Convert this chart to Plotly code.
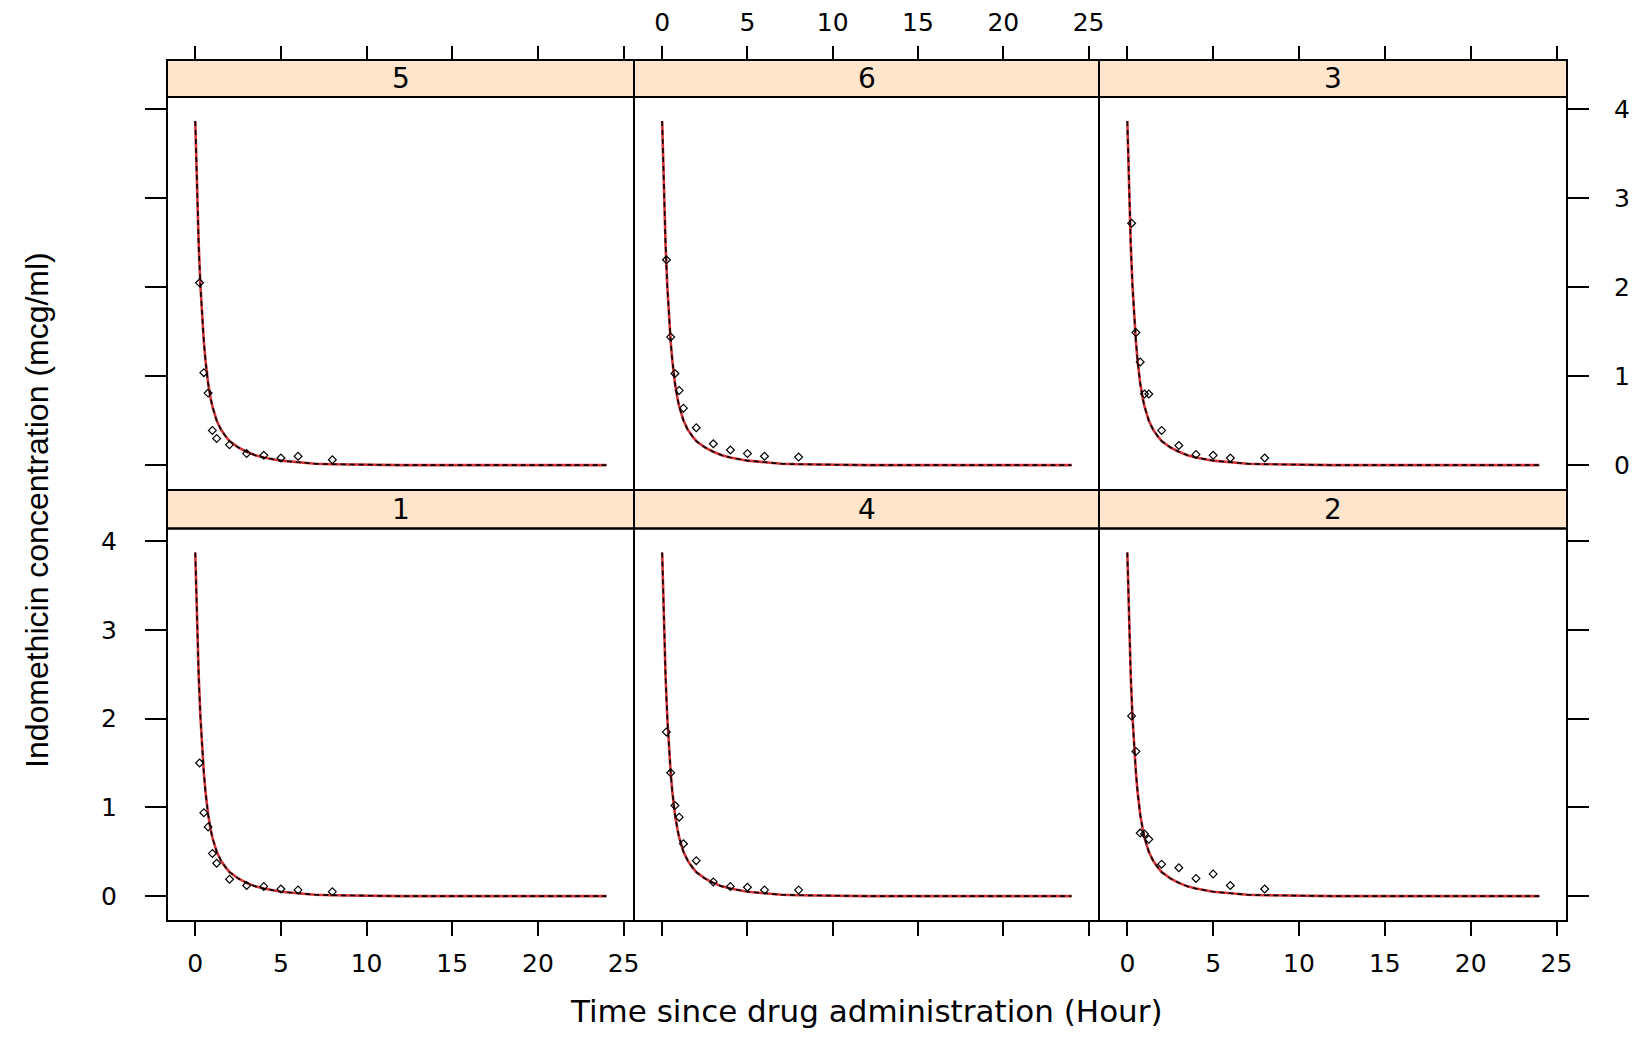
import plotly.graph_objects as go

# ---------------- data ----------------
time_h = [0.25, 0.5, 0.75, 1, 1.25, 2, 3, 4, 5, 6, 8]
conc_subject1 = [1.50, 0.94, 0.78, 0.48, 0.37, 0.19, 0.12, 0.11, 0.08, 0.07, 0.05]
conc_subject2 = [2.03, 1.63, 0.71, 0.70, 0.64, 0.36, 0.32, 0.20, 0.25, 0.12, 0.08]
conc_subject3 = [2.72, 1.49, 1.16, 0.80, 0.80, 0.39, 0.22, 0.12, 0.11, 0.08, 0.08]
conc_subject4 = [1.85, 1.39, 1.02, 0.89, 0.59, 0.40, 0.16, 0.11, 0.10, 0.07, 0.07]
conc_subject5 = [2.05, 1.04, 0.81, 0.39, 0.30, 0.23, 0.13, 0.11, 0.08, 0.10, 0.06]
conc_subject6 = [2.31, 1.44, 1.03, 0.84, 0.64, 0.42, 0.24, 0.17, 0.13, 0.10, 0.09]

# fitted curve (same in every panel)
fit_time = [0, 0.1, 0.2, 0.3, 0.4, 0.5, 0.6, 0.75, 0.9, 1.0, 1.25, 1.5, 1.75,
            2.0, 2.5, 3.0, 3.5, 4.0, 5.0, 6.0, 7.0, 8.0, 10.0, 12.0, 16.0, 20.0, 24.0]
fit_conc = [3.87, 3.09, 2.48, 2.02, 1.66, 1.39, 1.17, 0.92, 0.75, 0.66, 0.50, 0.40, 0.33,
            0.27, 0.20, 0.15, 0.11, 0.085, 0.05, 0.03, 0.015, 0.01, 0.003, 0.0, 0.0, 0.0, 0.0]

panel_labels = ["5", "6", "3", "1", "4", "2"]   # row 1 left->right, row 2 left->right
panel_conc = [conc_subject5, conc_subject6, conc_subject3,
              conc_subject1, conc_subject4, conc_subject2]

x_ticks = [0, 5, 10, 15, 20, 25]
y_ticks = [0, 1, 2, 3, 4]
x_title = "Time since drug administration (Hour)"
y_title = "Indomethicin concentration (mcg/ml)"

# ---------------- layout geometry ----------------
PAGE_OFF = 8                      # default page margin around the figure
W, H = 1638 - 2 * PAGE_OFF, 1040 - 2 * PAGE_OFF
col_px = [(167, 634), (634, 1099), (1099, 1567)]
row_plot_px = [(97, 490), (528.6, 921)]
row_strip_px = [(60, 97), (490, 528.6)]
top_axis_px = 60

def px_x(v):
    return (v - PAGE_OFF) / W

def px_y(v):
    return 1 - (v - PAGE_OFF) / H

x_range = [-1.65, 25.61]
y_range = [-0.28, 4.14]

strip_fill = "#ffe5cc"
tick_font = dict(family="DejaVu Sans", size=25, color="black")

fig = go.Figure()
layout = dict(width=W, height=H, margin=dict(l=0, r=0, t=0, b=0, autoexpand=False),
              paper_bgcolor="white", plot_bgcolor="white", showlegend=False)
shapes = []
annotations = []

for i in range(6):
    row, col = divmod(i, 3)
    n = i + 1
    xa = "x" if n == 1 else f"x{n}"
    ya = "y" if n == 1 else f"y{n}"
    xkey = "xaxis" if n == 1 else f"xaxis{n}"
    ykey = "yaxis" if n == 1 else f"yaxis{n}"

    x0, x1 = col_px[col]
    py0, py1 = row_plot_px[row]
    sy0, sy1 = row_strip_px[row]

    xaxis = dict(domain=[px_x(x0), px_x(x1)], range=x_range, tickvals=x_ticks,
                 showgrid=False, zeroline=False, showline=False, automargin=False,
                 ticks="outside", ticklen=14, tickwidth=2, tickcolor="black",
                 tickfont=tick_font, fixedrange=True)
    if row == 0:
        xaxis.update(anchor="free", position=px_y(top_axis_px), side="top",
                     showticklabels=(col == 1), ticklabelstandoff=5)
    else:
        xaxis.update(anchor=ya, side="bottom", showticklabels=(col != 1),
                     ticklabelstandoff=6)

    yaxis = dict(domain=[px_y(py1), px_y(py0)], range=y_range, tickvals=y_ticks,
                 showgrid=False, zeroline=False, showline=False, anchor=xa,
                 automargin=False, tickfont=tick_font, fixedrange=True)
    if col == 0:
        yaxis.update(side="left", ticks="outside", ticklen=21, tickwidth=2,
                     tickcolor="black", showticklabels=(row == 1), ticklabelstandoff=23)
    elif col == 2:
        yaxis.update(side="right", ticks="outside", ticklen=21, tickwidth=2,
                     tickcolor="black", showticklabels=(row == 0), ticklabelstandoff=20)
    else:
        yaxis.update(ticks="", showticklabels=False)

    layout[xkey] = xaxis
    layout[ykey] = yaxis

    # fitted curves
    fig.add_trace(go.Scatter(x=fit_time, y=fit_conc, mode="lines", xaxis=xa, yaxis=ya,
                             line=dict(color="#d2343a", width=2.6), hoverinfo="skip"))
    fig.add_trace(go.Scatter(x=fit_time, y=fit_conc, mode="lines", xaxis=xa, yaxis=ya,
                             line=dict(color="black", width=1.6, dash="5px,4px"),
                             hoverinfo="skip"))
    # observations
    fig.add_trace(go.Scatter(x=time_h, y=panel_conc[i], mode="markers", xaxis=xa, yaxis=ya,
                             marker=dict(symbol="diamond-open", size=6, color="black",
                                         line=dict(width=1.2, color="black"))))

    # strip
    shapes.append(dict(type="rect", xref="paper", yref="paper",
                       x0=px_x(x0), x1=px_x(x1), y0=px_y(sy1), y1=px_y(sy0),
                       fillcolor=strip_fill, line=dict(color="black", width=2),
                       layer="below"))
    # panel frame
    shapes.append(dict(type="rect", xref="paper", yref="paper",
                       x0=px_x(x0), x1=px_x(x1), y0=px_y(py1), y1=px_y(py0),
                       fillcolor="rgba(0,0,0,0)", line=dict(color="black", width=2),
                       layer="above"))
    annotations.append(dict(text=panel_labels[i], xref="paper", yref="paper",
                            x=px_x((x0 + x1) / 2), y=px_y((sy0 + sy1) / 2),
                            xanchor="center", yanchor="middle", showarrow=False,
                            font=dict(family="DejaVu Sans", size=28, color="black")))

annotations.append(dict(text=x_title, xref="paper", yref="paper",
                        x=px_x(867), y=px_y(1011), xanchor="center", yanchor="middle",
                        showarrow=False,
                        font=dict(family="DejaVu Sans", size=31, color="black")))
annotations.append(dict(text=y_title, xref="paper", yref="paper",
                        x=px_x(37), y=px_y(510), xanchor="center", yanchor="middle",
                        showarrow=False, textangle=-90,
                        font=dict(family="Liberation Sans", size=32, color="black")))

layout["shapes"] = shapes
layout["annotations"] = annotations
fig.update_layout(**layout)
fig.write_html("out.html")
